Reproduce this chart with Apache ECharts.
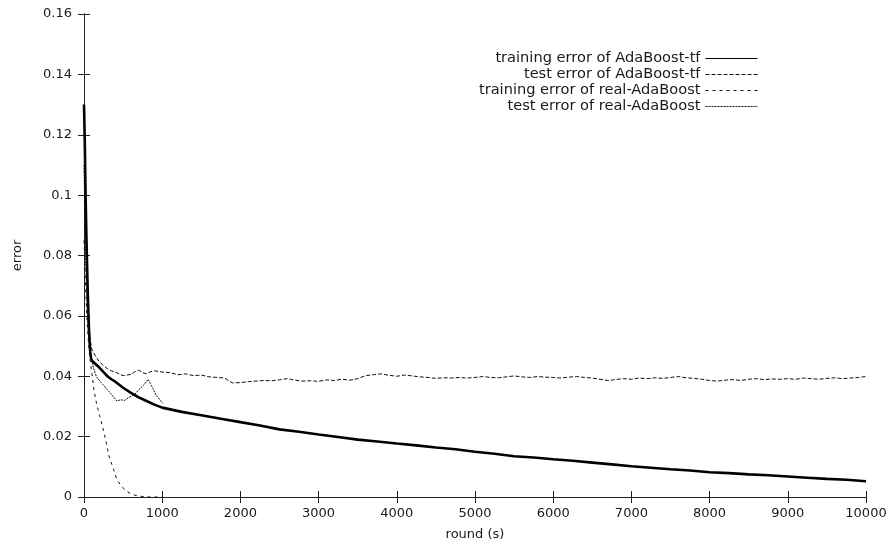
<!DOCTYPE html>
<html>
<head>
<meta charset="utf-8">
<script src="https://cdn.jsdelivr.net/npm/echarts@6/dist/echarts.min.js"></script>
<style>html,body{margin:0;padding:0;background:#fff}#c{width:892px;height:551px}</style>
</head>
<body>
<div id="c"></div>
<script>
var seriesNames = ['training error of AdaBoost-tf','test error of AdaBoost-tf','training error of real-AdaBoost','test error of real-AdaBoost'];
var xTicks = [0,1000,2000,3000,4000,5000,6000,7000,8000,9000,10000];
var yTicks = [0,0.02,0.04,0.06,0.08,0.1,0.12,0.14,0.16];

var tfTrainX = [0,10,20,30,40,50,60,70,80,90,100,125,150,200,250,300,350,400,500,600,700,800,900,1000,
  1250,1500,1750,2000,2250,2500,2750,3000,3250,3500,3750,4000,4250,4500,4750,5000,5250,5500,5750,6000,
  6250,6500,6750,7000,7250,7500,7750,8000,8250,8500,8750,9000,9250,9500,9750,10000];
var tfTrainY = [0.13,0.118,0.10,0.087,0.076,0.066,0.058,0.052,0.048,0.046,0.0452,0.0447,0.044,0.0428,0.0414,0.040,0.039,0.0382,0.0362,0.0345,0.033,0.0318,0.0306,0.0296,
  0.0282,0.0271,0.0259,0.0248,0.0237,0.0224,0.0216,0.0207,0.0199,0.0190,0.0184,0.0177,0.0171,0.0164,0.0158,0.0150,0.0143,0.0135,0.0131,0.0125,
  0.0120,0.0114,0.0108,0.0102,0.0097,0.0092,0.0088,0.0082,0.0079,0.0075,0.0072,0.0068,0.0064,0.0060,0.0057,0.0052];

var tfTestX = [0,20,40,60,80,100,150,200,250,300,350,400,450,500,550,600,650,700,750,800,850,900,1000,
  1100,1200,1300,1400,1500,1600,1700,1800,1850,1900,2000,2100,2200,2300,2400,2500,2600,2700,2800,2900,3000,
  3100,3200,3300,3400,3500,3600,3700,3800,3900,4000,4100,4200,4300,4400,4500,4600,4700,4800,4900,5000,
  5100,5200,5300,5400,5500,5600,5700,5800,5900,6000,6100,6200,6300,6400,6500,6600,6700,6800,6900,7000,
  7100,7200,7300,7400,7500,7600,7700,7800,7900,8000,8100,8200,8300,8400,8500,8600,8700,8800,8900,9000,
  9100,9200,9300,9400,9500,9600,9700,9800,9900,10000];
var tfTestY = [0.125,0.09,0.07,0.058,0.052,0.049,0.0465,0.0447,0.0435,0.0425,0.0418,0.0414,0.0408,0.0402,0.0404,0.0406,0.0415,0.042,0.0412,0.0408,0.0415,0.0418,0.0414,
  0.0412,0.0405,0.0408,0.0402,0.0404,0.0398,0.0396,0.0394,0.0385,0.0378,0.0379,0.0382,0.0384,0.0386,0.0385,0.0388,0.0392,0.0387,0.0384,0.0385,0.0383,
  0.0388,0.0386,0.0390,0.0387,0.0392,0.0402,0.0405,0.0408,0.0403,0.0400,0.0404,0.0401,0.0398,0.0396,0.0393,0.0395,0.0394,0.0396,0.0394,0.0396,
  0.0399,0.0396,0.0395,0.0398,0.0401,0.0398,0.0396,0.0399,0.0397,0.0396,0.0394,0.0397,0.0399,0.0396,0.0394,0.0390,0.0386,0.0389,0.0392,0.0390,
  0.0394,0.0392,0.0395,0.0393,0.0396,0.0399,0.0395,0.0393,0.0390,0.0386,0.0384,0.0387,0.0389,0.0386,0.0390,0.0392,0.0389,0.0391,0.0390,0.0392,
  0.0390,0.0394,0.0392,0.0390,0.0393,0.0395,0.0392,0.0394,0.0396,0.0399];

var realTrainX = [0,20,40,60,80,100,130,160,200,260,320,380,420,480,550,620,700,780,850,1000];
var realTrainY = [0.085,0.07,0.058,0.05,0.045,0.041,0.035,0.031,0.027,0.021,0.0135,0.009,0.0058,0.0035,0.0018,0.0008,0.0003,0.0001,0,0];

var realTestX = [0,20,40,60,80,100,130,160,200,250,300,350,420,470,520,575,640,700,760,820,850,880,920,970,1010];
var realTestY = [0.11,0.08,0.062,0.053,0.048,0.045,0.042,0.0398,0.0385,0.037,0.0355,0.034,0.0318,0.0322,0.032,0.033,0.0338,0.0355,0.037,0.039,0.0375,0.036,0.0338,0.0322,0.031];

function pairs(xs, ys){ return xs.map(function(x,i){ return [x, ys[i]]; }); }

var font = 'DejaVu Sans';
var txt = '#1a1a1a';
var frame = {show:true, lineStyle:{color:'#222', width:1}};

function legendAt(name, top){
  return {
    data:[name], orient:'vertical', right:134, top:top, align:'right',
    itemWidth:52, itemHeight:14, padding:0, selectedMode:false,
    textStyle:{fontFamily:font, fontSize:14.6, color:txt},
    lineStyle:{width:1},
    itemStyle:{opacity:0, borderWidth:0}
  };
}

var chart = echarts.init(document.getElementById('c'), null, {renderer:'canvas'});
chart.setOption({
  animation:false,
  backgroundColor:'#fff',
  grid:{left:84, right:26, top:14, bottom:54},
  legend:[legendAt(seriesNames[0],51),legendAt(seriesNames[1],67),legendAt(seriesNames[2],83),legendAt(seriesNames[3],99)],
  xAxis:[{
    type:'value', min:xTicks[0], max:xTicks[xTicks.length-1], interval:1000,
    name:'round (s)', nameLocation:'middle', nameGap:31,
    nameTextStyle:{fontFamily:font, fontSize:13, color:txt},
    axisLine:frame, axisTick:{inside:true, length:6, lineStyle:{color:'#222'}},
    axisLabel:{fontFamily:font, fontSize:13, color:txt, margin:10, formatter:function(v){return String(v);}},
    splitLine:{show:false}
  },{
    type:'value', position:'top', min:xTicks[0], max:xTicks[xTicks.length-1], interval:1000,
    axisLine:frame, axisTick:{inside:true, length:6, lineStyle:{color:'#222'}},
    axisLabel:{show:false}, splitLine:{show:false}
  }],
  yAxis:[{
    type:'value', min:yTicks[0], max:yTicks[yTicks.length-1], interval:0.02,
    name:'error', nameLocation:'middle', nameGap:60, nameRotate:90,
    nameTextStyle:{fontFamily:font, fontSize:13, color:txt},
    axisLine:frame, axisTick:{inside:true, length:6, lineStyle:{color:'#222'}},
    axisLabel:{fontFamily:font, fontSize:13, color:txt, margin:12},
    splitLine:{show:false}
  },{
    type:'value', position:'right', min:yTicks[0], max:yTicks[yTicks.length-1], interval:0.02,
    axisLine:frame, axisTick:{inside:true, length:6, lineStyle:{color:'#222'}},
    axisLabel:{show:false}, splitLine:{show:false}
  }],
  series:[
    {name:seriesNames[0], type:'line', symbol:'none', data:pairs(tfTrainX, tfTrainY),
      lineStyle:{color:'#000', width:2.6, type:'solid'}, itemStyle:{color:'#000'}},
    {name:seriesNames[1], type:'line', symbol:'none', data:pairs(tfTestX, tfTestY),
      lineStyle:{color:'#111', width:1, type:[4,2]}, itemStyle:{color:'#111'}},
    {name:seriesNames[2], type:'line', symbol:'none', data:pairs(realTrainX, realTrainY),
      lineStyle:{color:'#111', width:1, type:[3,4]}, itemStyle:{color:'#111'}},
    {name:seriesNames[3], type:'line', symbol:'none', data:pairs(realTestX, realTestY),
      lineStyle:{color:'#111', width:1, type:[2,1]}, itemStyle:{color:'#111'}}
  ]
});
</script>
</body>
</html>
